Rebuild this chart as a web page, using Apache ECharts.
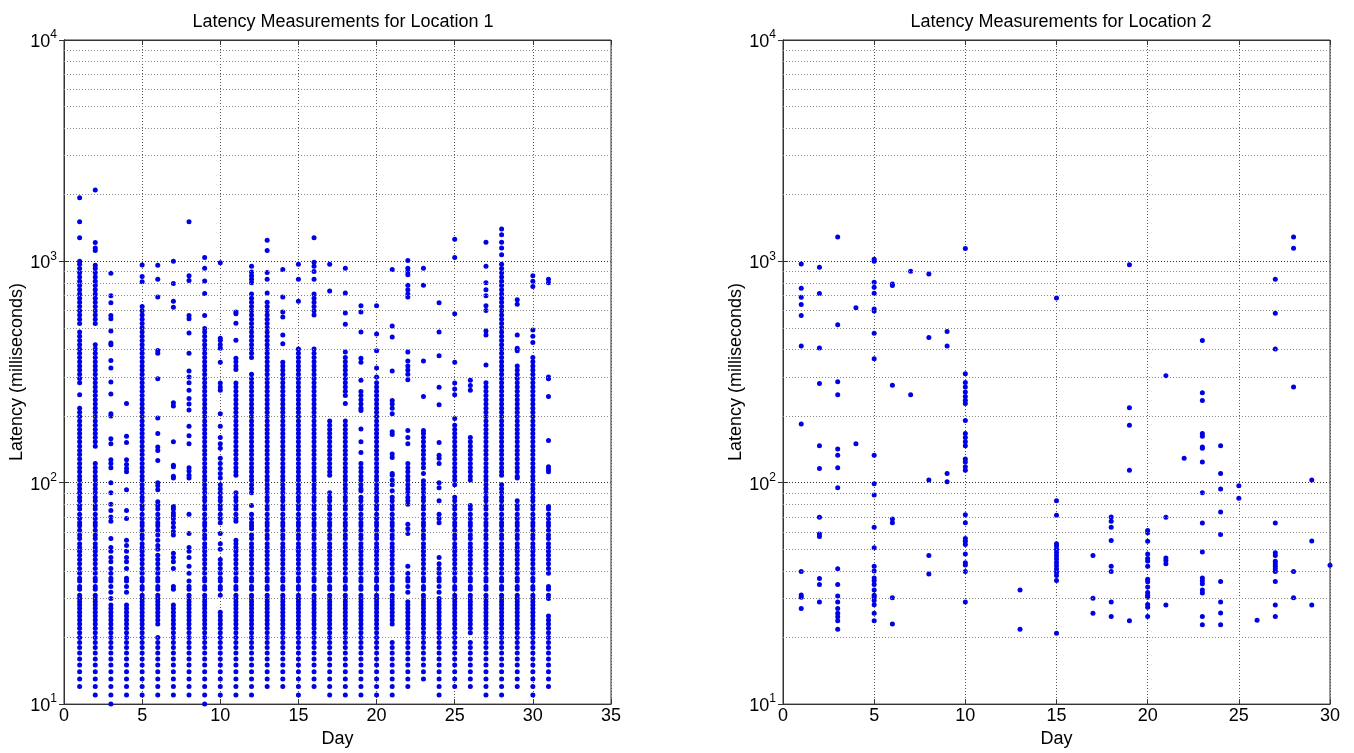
<!DOCTYPE html>
<html>
<head>
<meta charset="utf-8">
<script src="https://cdn.jsdelivr.net/npm/echarts@6/dist/echarts.min.js"></script>
<style>
  html, body { margin: 0; padding: 0; background: #fff; }
  #chart { width: 1354px; height: 753px; }
</style>
</head>
<body>
<div id="chart"></div>
<script>
// latency (ms) per day
const loc1Days = [1,2,3,4,5,6,7,8,9,10,11,12,13,14,15,16,17,18,19,20,21,22,23,24,25,26,27,28,29,30,31]
const loc1Values = [
  [12,13,14,15,16,17,18,19,20,21,22,23,24,25,26,27,28,29,30,31,33,34,36,37,39,41,43,45,47,49,51,53,56,58,61,64,66,69,72,76,79,83,86,90,94,98,103,107,112,117,122,128,134,140,146,153,160,167,174,182,190,199,208,217,250,283,296,309,323,337,352,368,385,402,420,439,459,480,524,547,572,598,625,653,682,713,745,778,813,850,888,928,970,1000,1280,1510,1940],
  [11,12,13,14,15,16,17,18,19,20,21,22,23,24,25,26,27,28,29,30,31,33,34,36,37,39,41,43,45,47,49,51,53,56,58,61,64,66,69,72,76,79,83,86,90,94,98,103,107,112,117,122,146,153,160,167,174,182,190,199,208,217,227,237,248,259,271,283,296,309,323,337,352,368,385,402,420,524,547,572,598,625,653,682,713,745,778,813,850,888,928,960,1120,1150,1218,2100],
  [10,11,12,13,14,15,16,17,18,19,20,21,22,23,24,25,26,27,28,30,32,34,36,37,39,41,44,46,49,51,56,67,70,75,80,90,100,117,122,127,150,158,200,205,252,285,330,357,420,428,485,550,570,650,700,883],
  [11,12,13,14,15,16,17,18,19,20,21,22,23,24,25,26,27,28,32,34,36,37,41,44,46,49,52,55,69,75,93,112,116,121,127,152,162,228],
  [11,12,13,14,15,16,17,18,19,20,21,22,23,24,25,26,27,28,29,30,31,33,34,36,37,39,41,43,45,47,49,51,53,56,58,61,64,66,69,72,76,79,83,86,90,94,98,103,107,112,117,122,128,134,140,146,153,160,167,174,182,190,199,208,217,227,237,248,259,271,283,296,309,323,337,352,368,385,402,420,439,459,480,501,524,547,572,598,625,808,855,962],
  [11,12,13,14,15,16,17,18,19,20,23,24,25,26,27,28,29,30,31,33,34,36,37,39,41,43,45,47,50,52,55,58,61,64,66,69,72,76,79,82,93,97,100,126,140,145,167,196,295,385,396,690,830,960],
  [11,12,13,14,15,16,17,18,19,20,21,22,23,24,25,26,27,28,33,34,41,44,46,48,58,60,63,66,69,71,73,76,78,105,107,118,120,153,222,230,620,660,795,1000],
  [11,12,13,14,15,16,17,18,19,20,21,22,23,24,25,26,27,28,29,30,31,33,34,36,39,42,46,49,51,59,72,105,108,113,117,150,163,180,213,227,240,262,283,300,320,385,475,550,570,820,860,1510],
  [10,11,12,13,14,15,16,17,18,19,20,21,22,23,24,25,26,27,28,29,30,31,33,34,36,37,39,41,43,45,47,49,51,53,56,58,61,64,66,69,72,76,79,83,86,90,94,98,103,107,112,117,122,128,134,140,146,153,160,167,174,182,190,199,208,217,227,237,248,259,271,283,296,309,323,337,352,368,385,402,420,439,459,480,497,570,715,815,930,1040],
  [11,12,13,14,15,16,17,18,19,20,21,22,23,24,25,26,31,33,34,36,37,39,41,43,45,50,53,59,66,69,72,76,79,83,86,90,94,98,105,110,116,122,129,143,150,160,180,205,262,271,282,350,405,420,439,450,985],
  [11,12,13,14,15,16,17,18,19,20,21,22,23,24,25,26,27,28,29,30,31,33,34,36,37,39,41,43,45,47,49,51,53,55,67,69,72,76,79,83,86,90,108,112,117,122,128,134,140,146,153,160,167,174,182,190,199,208,217,227,237,248,259,271,282,325,337,352,365,440,525,580,590],
  [11,12,13,14,15,16,17,18,19,20,21,22,23,24,25,26,27,28,29,30,31,33,34,36,37,39,41,43,45,47,49,51,53,56,58,62,64,66,69,72,79,90,94,98,103,107,112,117,122,128,134,140,146,153,160,167,174,182,190,199,208,217,227,237,248,259,271,283,296,309,368,385,402,420,439,459,480,501,524,547,572,598,625,653,682,713,800,830,860,895,950],
  [12,13,14,15,16,17,18,19,20,21,22,23,24,25,26,27,28,29,30,31,33,34,36,37,39,41,43,45,47,49,51,53,56,58,61,64,66,69,72,76,79,83,86,90,94,98,103,107,112,117,122,128,134,140,146,153,160,167,174,182,190,199,208,217,227,237,248,259,271,283,296,309,323,337,352,368,385,402,420,439,459,480,501,524,547,572,598,625,653,720,830,890,1120,1245],
  [12,13,14,15,16,17,18,19,20,21,22,23,24,25,26,27,28,29,30,31,33,34,36,37,39,41,43,45,47,49,51,53,56,58,61,64,66,69,72,76,79,83,86,90,94,98,103,107,112,117,122,128,134,140,146,153,160,167,174,182,190,199,208,217,227,237,248,259,271,283,296,309,323,337,350,425,465,560,590,690,920],
  [11,12,13,14,15,16,17,18,19,20,21,22,23,24,25,26,27,28,29,30,31,33,34,36,37,39,41,43,45,47,49,51,53,56,58,61,64,66,69,72,76,79,83,86,90,94,98,103,107,112,117,122,128,134,140,146,153,160,167,174,182,190,199,208,217,227,237,248,259,271,283,296,309,323,337,352,368,385,402,660,830,970],
  [12,13,14,15,16,17,18,19,20,21,22,23,24,25,26,27,28,29,30,31,33,34,36,37,39,41,43,45,47,49,51,53,56,58,61,64,66,69,72,76,79,83,86,90,94,98,103,107,112,117,122,128,134,140,146,153,160,167,174,182,190,199,208,217,227,237,248,259,271,283,296,309,323,337,352,368,385,402,572,598,625,653,682,713,830,900,950,990,1280],
  [11,12,13,14,15,16,17,18,19,20,21,22,23,24,25,26,27,28,29,30,31,33,34,36,37,39,41,43,45,47,49,51,53,56,58,61,64,66,69,72,76,79,83,86,90,108,112,117,122,128,134,140,146,153,160,167,174,182,190,735,970],
  [11,12,13,14,15,16,17,18,19,20,21,22,23,24,25,26,27,28,29,30,31,33,34,36,37,39,41,43,45,47,49,51,53,56,58,61,64,66,69,72,76,79,83,86,90,94,98,103,107,112,117,122,128,134,140,146,153,160,167,174,182,190,228,248,259,271,283,296,309,323,337,352,368,390,520,585,720,930],
  [11,12,13,14,15,16,17,18,19,20,21,22,23,24,25,26,27,28,29,30,31,33,34,36,37,39,41,43,45,47,49,51,53,56,58,61,64,66,69,72,76,79,83,86,92,94,98,103,107,112,117,122,137,153,175,212,217,227,237,248,258,290,350,365,480,590,630],
  [11,12,13,14,15,16,17,18,19,20,21,22,23,24,25,26,27,28,29,30,31,33,34,36,37,39,41,43,45,47,49,51,53,56,58,61,64,66,69,72,76,79,83,86,90,94,98,103,107,112,117,122,128,134,140,146,153,160,167,174,182,190,199,208,217,227,237,248,259,271,283,300,330,395,470,630],
  [11,12,13,14,15,16,17,18,19,23,24,25,26,27,28,29,30,31,33,34,36,37,39,41,43,45,47,49,51,53,56,58,61,64,66,69,72,76,79,83,86,92,98,103,108,110,130,135,165,170,205,217,227,235,320,455,510,920],
  [12,13,14,15,16,17,18,19,20,21,22,23,24,25,26,27,28,29,32,34,36,37,39,42,59,62,65,80,83,86,90,94,98,103,107,112,117,122,150,160,172,292,309,323,337,355,390,690,713,745,780,870,900,930,1010],
  [13,14,15,16,17,18,19,20,21,22,23,24,25,26,27,28,29,30,31,33,34,36,37,39,41,43,45,47,49,51,53,56,58,61,64,66,69,72,76,79,83,86,90,94,98,102,110,117,122,128,134,140,146,153,160,167,172,245,355,780,930],
  [11,12,13,14,15,16,17,18,19,20,21,22,23,24,25,26,27,28,29,30,32,34,36,37,39,41,43,46,66,69,72,83,95,100,122,129,133,152,225,270,375,480,650],
  [12,13,14,15,16,17,18,19,20,21,22,23,24,25,26,27,28,29,30,31,33,34,36,37,39,41,43,45,47,49,51,53,56,58,61,64,66,69,72,76,79,83,86,98,103,107,112,117,122,128,134,140,146,153,160,167,174,182,195,250,265,282,350,580,1040,1260],
  [12,13,14,15,16,17,18,19,21,22,23,24,25,26,27,28,29,30,31,33,34,36,37,39,41,43,45,47,49,51,53,56,58,61,64,66,69,72,76,79,103,107,112,117,122,128,134,140,146,153,160,262,275,290],
  [11,12,13,14,15,16,17,18,19,20,21,22,23,24,25,26,27,28,29,30,31,33,34,36,37,39,41,43,45,47,49,51,53,56,58,61,64,66,69,72,76,79,83,86,90,94,98,103,107,112,117,122,128,134,140,146,153,160,167,174,182,190,199,208,217,227,237,248,259,271,283,340,465,485,600,630,700,745,800,950,1220],
  [11,12,13,14,15,16,17,18,19,20,21,22,23,24,25,26,27,28,29,30,31,33,34,36,37,39,41,43,45,47,49,51,53,56,58,61,64,66,69,72,76,79,83,86,90,94,98,108,112,117,122,128,134,140,146,153,160,167,174,182,190,199,208,217,227,237,248,259,271,283,296,309,323,337,352,368,385,402,420,439,459,480,501,524,547,572,598,625,653,682,713,745,778,813,850,888,928,970,1070,1150,1220,1320,1400],
  [12,13,14,15,16,17,18,19,20,21,22,23,24,25,26,27,28,29,30,31,33,34,36,37,39,41,43,45,47,49,51,53,56,58,61,64,66,69,72,76,79,83,105,107,112,117,122,128,134,140,146,153,160,167,174,182,190,199,208,217,227,237,248,259,271,283,296,309,323,337,395,405,465,640,670],
  [11,12,13,14,15,16,17,18,19,20,21,22,23,24,25,26,27,28,29,30,31,33,34,36,37,39,41,43,45,47,49,51,53,56,58,61,64,66,69,72,76,79,83,86,90,94,98,103,107,112,117,122,128,134,140,146,153,160,167,174,182,190,199,208,217,227,237,248,259,271,283,296,309,323,337,352,368,430,459,490,770,813,860],
  [12,13,14,15,16,17,18,19,20,21,22,23,24,25,30,31,33,34,39,41,43,45,47,49,51,53,56,58,61,64,66,69,72,76,78,112,115,118,155,245,295,300,800,830]
]

const loc2Days = [1,2,3,4,5,6,7,8,9,10,11,12,13,14,15,16,17,18,19,20,21,22,23,24,25,26,27,28,29,30]
const loc2Values = [
  [972,756,689,638,569,415,184,39.7,31.1,30.4,27],
  [940,715,406,281,147,116,69.8,58.7,57.1,36.9,34.7,28.9],
  [1290,517,286,250,142,133,117,95,40.9,34.7,30.8,28.9,27,25.7,24.8,23.8,21.8],
  [617,150],
  [1023,1000,804,764,717,610,596,474,363,133,99,88,62.9,50.8,42,39.9,37.1,36.1,34.7,32.8,31,30.4,29.4,28.1,25.7,23.8],
  [791,778,276,68.6,65.9,30.2,23],
  [902,250],
  [877,453,103,46.9,38.7],
  [482,415,110,101],
  [1144,311,284,271,257,245,236,228,191,167,160,153,147,128,124,118,114,71.7,65.9,56,54.4,52.6,47.7,43.5,42.5,39.7,28.9],
  [],
  [],
  [32.8,21.8],
  [],
  [684,83,71.3,53,51.8,50.1,48.4,46.8,45.2,43.6,42.2,40.8,39.4,38.1,36.2,20.9],
  [],
  [46.9,30.1,25.7],
  [70,67,62.9,54.8,42,39.7,28.9,24.9],
  [965,218,182,114,23.8],
  [60.8,59.5,54.4,47.7,45.5,44.3,42,36.6,35.7,33.8,31.9,31,30.4,28.2,27.4,24.9],
  [304,69.8,45.7,44.5,43,28],
  [129],
  [439,255,235,167,162,145,143,124,90,65.8,48.7,37.1,36.1,35,32.8,31.8,24.9,22.8],
  [147,110,93.6,73.8,58.3,35.8,28.9,25.8,22.8],
  [96.8,85],
  [23.9],
  [830,583,402,65.8,48.3,46.9,44.2,43,41.9,40.8,39.7,35.8,28,24.9],
  [1290,1147,271,39.7,30.2],
  [103,54.6,28],
  [42.4]
]

const titles = ['Latency Measurements for Location 1', 'Latency Measurements for Location 2']
const xMax = [35, 30]
const minorGridValues = [20,30,40,50,60,70,80,90,200,300,400,500,600,700,800,900,2000,3000,4000,5000,6000,7000,8000,9000]

const FONT = 'Liberation Sans, Arial, sans-serif'
const DOT = '#0000e6'
const AXIS = '#333'

const toPoints = (days, values) => days.flatMap((d, i) => values[i].map(v => [d, v]))

const chart = echarts.init(document.getElementById('chart'))

const grids = [
  { left: 64, top: 40, width: 547, height: 667 },
  { left: 783, top: 40, width: 547, height: 667 },
]

const xAxes = [0, 1].map(i => ({
  type: 'value',
  gridIndex: i,
  min: 0,
  max: xMax[i],
  interval: 5,
  name: 'Day',
  nameLocation: 'middle',
  nameGap: 25,
  nameTextStyle: { color: '#000', fontSize: 18, fontFamily: FONT },
  axisLine: { lineStyle: { color: AXIS } },
  axisTick: { inside: true, length: 5, lineStyle: { color: AXIS } },
  axisLabel: { color: '#000', fontSize: 18, fontFamily: FONT, margin: 3 },
  splitLine: { show: true, lineStyle: { type: [1, 2], color: '#555' } },
}))
// mirrored top axes, ticks only (MATLAB box)
;[0, 1].forEach(i => xAxes.push({
  type: 'value',
  gridIndex: i,
  position: 'top',
  min: 0,
  max: xMax[i],
  interval: 5,
  axisLine: { lineStyle: { color: AXIS } },
  axisTick: { inside: true, length: 5, lineStyle: { color: AXIS } },
  axisLabel: { show: false },
  splitLine: { show: false },
}))

const yAxes = [0, 1].map(i => ({
  type: 'log',
  gridIndex: i,
  min: 10,
  max: 10000,
  logBase: 10,
  name: 'Latency (milliseconds)',
  nameLocation: 'middle',
  nameGap: 37,
  nameTextStyle: { color: '#000', fontSize: 18, fontFamily: FONT },
  axisLine: { lineStyle: { color: AXIS } },
  axisTick: { inside: true, length: 5, lineStyle: { color: AXIS } },
  axisLabel: {
    margin: 7,
    formatter: v => '{b|10}{e|' + Math.round(Math.log10(v)) + '}',
    rich: {
      b: { fontSize: 18, fontFamily: FONT, color: '#000', lineHeight: 22, verticalAlign: 'bottom' },
      e: { fontSize: 12, fontFamily: FONT, color: '#000', lineHeight: 12, verticalAlign: 'top' },
    },
  },
  splitLine: { show: true, lineStyle: { type: [1, 2], color: '#333' } },
}))
;[0, 1].forEach(i => yAxes.push({
  type: 'log',
  gridIndex: i,
  position: 'right',
  min: 10,
  max: 10000,
  logBase: 10,
  axisLine: { lineStyle: { color: AXIS } },
  axisTick: { inside: true, length: 5, lineStyle: { color: AXIS } },
  axisLabel: { show: false },
  splitLine: { show: false },
}))

const series = []
;[[loc1Days, loc1Values], [loc2Days, loc2Values]].forEach(([days, values], i) => {
  // minor log grid lines, drawn under the points
  series.push({
    type: 'scatter',
    xAxisIndex: i,
    yAxisIndex: i,
    z: 1,
    data: [],
    markLine: {
      silent: true,
      symbol: 'none',
      label: { show: false },
      lineStyle: { type: [1, 2], color: '#888', width: 1 },
      data: minorGridValues.map(v => ({ yAxis: v })),
    },
  })
  series.push({
    type: 'scatter',
    xAxisIndex: i,
    yAxisIndex: i,
    z: 3,
    symbol: 'circle',
    symbolSize: 5,
    itemStyle: { color: DOT, opacity: 1 },
    data: toPoints(days, values),
  })
})

chart.setOption({
  animation: false,
  backgroundColor: '#fff',
  title: [
    { text: titles[0], left: 338, textAlign: 'center', top: 8, textStyle: { fontSize: 18, fontWeight: 'normal', color: '#000', fontFamily: FONT } },
    { text: titles[1], left: 1056, textAlign: 'center', top: 8, textStyle: { fontSize: 18, fontWeight: 'normal', color: '#000', fontFamily: FONT } },
  ],
  grid: grids.map(g => Object.assign({ show: true, borderColor: AXIS, borderWidth: 1, backgroundColor: '#fff' }, g)),
  xAxis: xAxes,
  yAxis: yAxes,
  series: series,
})
</script>
</body>
</html>
